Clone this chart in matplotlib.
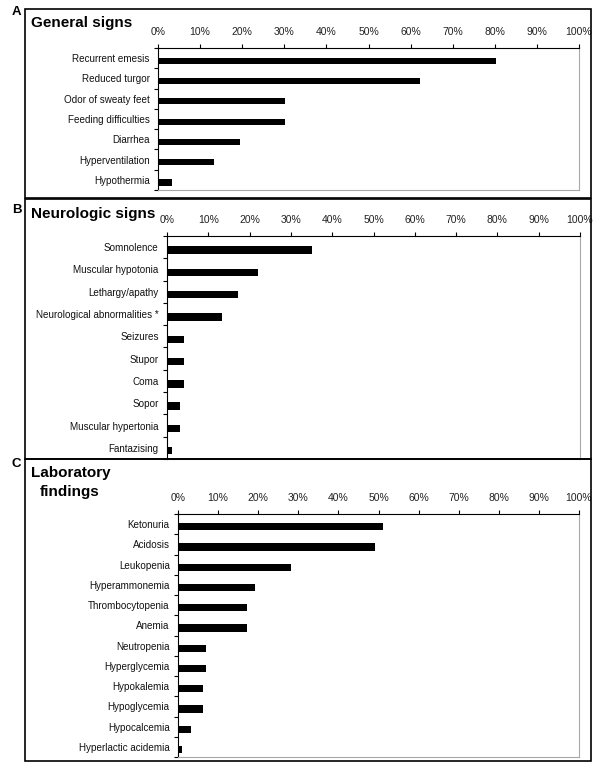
import numpy as np
import matplotlib
matplotlib.use("Agg")
import matplotlib.pyplot as plt
from matplotlib.patches import Rectangle

plt.rcParams["font.family"] = ["Liberation Sans", "DejaVu Sans"]

# panel A
general_labels = ["Recurrent emesis", "Reduced turgor", "Odor of sweaty feet",
                  "Feeding difficulties", "Diarrhea", "Hyperventilation",
                  "Hypothermia"]
general_vals = [80.2, 62.2, 30.1, 30.1, 19.4, 13.2, 3.3]

# panel B
neuro_labels = ["Somnolence", "Muscular hypotonia", "Lethargy/apathy",
                "Neurological abnormalities *", "Seizures", "Stupor", "Coma",
                "Sopor", "Muscular hypertonia", "Fantazising"]
neuro_vals = [35.0, 22.1, 17.1, 13.2, 4.0, 4.0, 4.0, 3.1, 3.1, 1.1]

# panel C
lab_labels = ["Ketonuria", "Acidosis", "Leukopenia", "Hyperammonemia",
              "Thrombocytopenia", "Anemia", "Neutropenia", "Hyperglycemia",
              "Hypokalemia", "Hypoglycemia", "Hypocalcemia",
              "Hyperlactic acidemia"]
lab_vals = [51.1, 49.2, 28.2, 19.2, 17.1, 17.1, 7.1, 7.1, 6.2, 6.2, 3.2, 1.1]

pct_ticks = np.arange(0, 101, 10)
pct_labels = [f"{p}%" for p in pct_ticks]

W, H = 600, 769


def px_rect(l, t, r, b):
    return [l / W, 1 - b / H, (r - l) / W, (b - t) / H]


def draw_panel(fig, rect, labels, vals, bar_h=0.32):
    ax = fig.add_axes(px_rect(*rect))
    n = len(labels)
    y = np.arange(n)
    ax.barh(y + 0.13, vals, height=bar_h, color="black")
    ax.set_xlim(0, 100)
    ax.set_ylim(n - 0.5, -0.5)

    ax.xaxis.tick_top()
    ax.set_xticks(pct_ticks)
    ax.set_xticklabels(pct_labels, fontsize=7.5, color="#222222")
    ax.tick_params(axis="x", direction="out", length=3, width=0.8, pad=5)

    ax.set_yticks(y)
    ax.set_yticklabels(labels, fontsize=7.1, color="#111111")
    ax.set_yticks(np.arange(n + 1) - 0.5, minor=True)
    ax.tick_params(axis="y", which="major", length=0, pad=6)
    ax.tick_params(axis="y", which="minor", direction="out", length=3, width=0.8)

    ax.spines["top"].set_color("black")
    ax.spines["left"].set_color("black")
    ax.spines["right"].set_color("#a8a8a8")
    ax.spines["bottom"].set_color("#a8a8a8")
    for sp in ax.spines.values():
        sp.set_linewidth(0.8)
    return ax


fig = plt.figure(figsize=(6, 7.69), dpi=100)

boxes = [(25, 9, 591, 198), (25, 199, 591, 459), (25, 459, 591, 761)]
for l, t, r, b in boxes:
    fig.patches.append(Rectangle((l / W, 1 - b / H), (r - l) / W, (b - t) / H,
                                 transform=fig.transFigure, fill=False,
                                 edgecolor="black", linewidth=1.2))

draw_panel(fig, (158, 48, 579, 190), general_labels, general_vals, 0.3)
draw_panel(fig, (167, 236, 580, 459), neuro_labels, neuro_vals, 0.33)
draw_panel(fig, (178, 514, 579, 757), lab_labels, lab_vals, 0.36)

for txt, yy in [("A", 12), ("B", 210), ("C", 464)]:
    fig.text(12 / W, 1 - yy / H, txt, fontsize=9.5, fontweight="bold",
             ha="left", va="center")

fig.text(31 / W, 1 - 23 / H, "General signs", fontsize=11,
         fontweight="bold", ha="left", va="center")
fig.text(31 / W, 1 - 214 / H, "Neurologic signs", fontsize=11,
         fontweight="bold", ha="left", va="center")
fig.text(31 / W, 1 - 473 / H, "Laboratory", fontsize=11,
         fontweight="bold", ha="left", va="center")
fig.text(40 / W, 1 - 492 / H, "findings", fontsize=11,
         fontweight="bold", ha="left", va="center")

fig.savefig("out.png", dpi=100)
